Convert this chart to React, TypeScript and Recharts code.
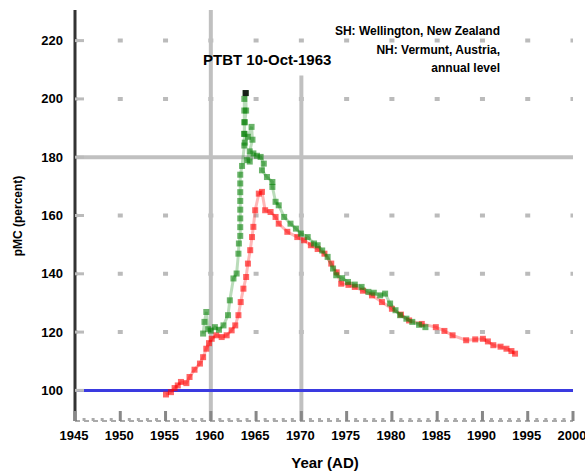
import React from 'react';
import { ComposedChart, Scatter, XAxis, YAxis, ReferenceLine } from 'recharts';

// Southern hemisphere: Wellington, New Zealand (red)
const nzYears = [
  1955.05, 1955.6, 1956.0, 1956.35, 1956.7, 1957.3, 1957.65, 1958.2, 1958.8, 1959.15,
  1959.5, 1959.8, 1960.1, 1960.6, 1961.2, 1961.75, 1962.3, 1962.7, 1963.05, 1963.3,
  1963.6, 1963.9, 1964.1, 1964.35, 1964.55, 1964.7, 1964.9, 1965.3, 1965.65, 1966.0,
  1966.6, 1967.15, 1967.5, 1968.45, 1969.55, 1970.3, 1971.05, 1971.8, 1972.55, 1973.3,
  1973.9, 1974.4, 1975.2, 1975.9, 1976.8, 1977.8, 1978.9, 1980.0, 1981.0, 1981.9,
  1983.3, 1984.85, 1985.8, 1986.7, 1988.2, 1989.2, 1990.05, 1990.6, 1991.2, 1992.0,
  1992.65, 1993.2, 1993.6,
];
const nzValues = [
  98.6, 99.4, 100.8, 101.7, 102.9, 102.5, 104.6, 107.1, 109.2, 111.4,
  114.3, 116.2, 117.7, 118.9, 118.3, 118.9, 120.6, 122.3, 125.8, 130.3,
  134.9, 138.9, 143.5, 148.1, 152.6, 156.1, 161.8, 167.5, 168.1, 161.8,
  161.2, 159.5, 157.2, 154.4, 152.6, 151.5, 149.8, 148.5, 146.9, 143.5,
  140.5, 136.6, 136.2, 135.5, 134.2, 132.6, 130.3, 128.0, 126.0, 124.0,
  122.8, 121.7, 120.4, 118.9, 117.2, 117.5, 117.7, 116.8, 115.5, 115.0,
  114.3, 113.5, 112.6,
];

// Northern hemisphere: Vermunt, Austria (green)
const atYears = [
  1959.15, 1959.3, 1959.5, 1959.7, 1960.0, 1960.45, 1960.9, 1961.4, 1961.9, 1962.1,
  1962.5, 1962.85, 1963.05, 1963.1, 1963.25, 1963.25, 1963.25, 1963.25, 1963.25, 1963.25,
  1963.25, 1963.25, 1963.45, 1963.7, 1963.7, 1963.7, 1963.7, 1963.7, 1963.85, 1963.9,
  1963.75, 1963.7, 1963.75, 1964.1, 1964.5, 1964.6, 1964.3, 1964.0, 1964.3, 1964.7,
  1965.1, 1965.5, 1965.85, 1965.65, 1966.2, 1966.8, 1966.8, 1967.15, 1967.5, 1968.1,
  1968.8, 1969.4, 1969.95, 1970.7, 1971.4, 1971.8, 1972.3, 1972.9, 1973.5, 1973.85,
  1974.5, 1975.15, 1975.9, 1976.65, 1977.4, 1978.0, 1978.7, 1979.25, 1979.8, 1980.4,
  1980.9, 1981.6, 1982.25, 1983.0, 1983.7,
];
const atValues = [
  119.5, 123.5, 126.9, 121.0, 120.5, 121.7, 120.8, 122.3, 125.8, 130.9,
  138.4, 140.1, 146.9, 150.4, 153.0, 156.0, 159.0, 162.0, 165.0, 168.0,
  171.0, 174.0, 177.0, 184.0, 188.0, 192.0, 196.0, 200.0, 202.0, 196.0,
  192.0, 188.0, 185.0, 187.0, 190.4, 186.0, 182.0, 179.0, 178.5, 181.3,
  180.5, 180.1, 177.8, 175.5, 173.2, 171.5, 169.8, 164.7, 163.5, 159.5,
  157.2, 155.5, 153.8, 152.6, 150.4, 149.8, 148.0, 145.8, 141.8, 139.5,
  138.5, 137.2, 136.3, 135.5, 133.8, 133.5, 132.6, 133.2, 129.8, 127.5,
  125.8, 124.6, 123.5, 122.5, 121.7,
];

const peakYears = [1963.85];
const peakValues = [202];

const xLabelYears = [1945, 1950, 1955, 1960, 1965, 1970, 1975, 1980, 1985, 1990, 1995, 2000];
const yTicks = [100, 120, 140, 160, 180, 200, 220];
const gridRows = [120, 140, 160, 200, 220];

const titleText = 'PTBT 10-Oct-1963';
const legendLines = ['SH: Wellington, New Zealand', 'NH: Vermunt, Austria,', 'annual level'];
const xTitle = 'Year (AD)';
const yTitle = 'pMC (percent)';

const W = 585;
const H = 472;
const MARGIN = { top: 10, right: 12, left: 0, bottom: 0 };
const Y_AXIS_W = 75;
const X_AXIS_H = 51;
const xDomain: [number, number] = [1945, 2000];
const yDomain: [number, number] = [89.5, 230.5];
const plotW = W - MARGIN.left - MARGIN.right - Y_AXIS_W;
const gridStep = (plotW * 5) / (xDomain[1] - xDomain[0]);
const allYears: number[] = [];
for (let yr = xDomain[0]; yr <= xDomain[1]; yr++) allYears.push(yr);

const FONT = '"Liberation Sans", Arial, sans-serif';

const nzData = nzYears.map((x, i) => ({ x, y: nzValues[i] }));
const atData = atYears.map((x, i) => ({ x, y: atValues[i] }));
const peakData = peakYears.map((x, i) => ({ x, y: peakValues[i] }));

const square = (color: string, size: number, opacity: number) => (props: any) => {
  const { cx, cy } = props;
  if (cx == null || cy == null) return <g />;
  return (
    <rect x={cx - size / 2} y={cy - size / 2} width={size} height={size} fill={color} fillOpacity={opacity} />
  );
};

const BottomTick = (props: any) => {
  const { x, y, payload } = props;
  const v = payload.value;
  const major = xLabelYears.includes(v);
  return (
    <g>
      <line x1={x} x2={x} y1={y} y2={y - (major ? 10 : 3)} stroke={major ? '#888' : '#aaa'} strokeWidth={3} />
      {major && (
        <text x={x - 1} y={y + 19} textAnchor="middle" fontSize={13} fontWeight="bold" fontFamily={FONT} fill="#000">
          {v}
        </text>
      )}
    </g>
  );
};

const TopTick = (props: any) => {
  const { x, y, payload } = props;
  const major = xLabelYears.includes(payload.value);
  return <line x1={x} x2={x} y1={y} y2={y + (major ? 9 : 3)} stroke={major ? '#999' : '#aaa'} strokeWidth={3} />;
};

const LeftTick = (props: any) => {
  const { x, y, payload } = props;
  return (
    <g>
      <line x1={x} x2={x + 9} y1={y} y2={y} stroke="#bbb" strokeWidth={3} />
      <text x={x - 12} y={y + 4.5} textAnchor="end" fontSize={13} fontWeight="bold" fontFamily={FONT} fill="#000">
        {payload.value}
      </text>
    </g>
  );
};

const RightTick = (props: any) => {
  const { x, y } = props;
  return <line x1={x} x2={x - 8} y1={y} y2={y} stroke="#999" strokeWidth={3} />;
};

export default function App() {
  return (
    <div style={{ position: 'absolute', left: 0, top: 0, width: W, height: H, background: '#fff' }}>
      <ComposedChart width={W} height={H} margin={MARGIN}>
        <XAxis
          type="number"
          dataKey="x"
          domain={xDomain}
          ticks={allYears}
          interval={0}
          height={X_AXIS_H}
          axisLine={{ stroke: '#aaa', strokeWidth: 2, strokeDasharray: '5 4' }}
          tickLine={false}
          tickSize={0}
          tickMargin={0}
          tick={(p: any) => <BottomTick {...p} />}
        />
        <XAxis
          xAxisId="top"
          orientation="top"
          type="number"
          dataKey="x"
          domain={xDomain}
          ticks={allYears}
          interval={0}
          height={0}
          axisLine={{ stroke: '#555', strokeWidth: 2 }}
          tickLine={false}
          tickSize={0}
          tickMargin={0}
          tick={(p: any) => <TopTick {...p} />}
        />
        <YAxis
          type="number"
          dataKey="y"
          domain={yDomain}
          ticks={yTicks}
          interval={0}
          width={Y_AXIS_W}
          axisLine={{ stroke: '#333', strokeWidth: 3 }}
          tickLine={false}
          tickSize={0}
          tickMargin={0}
          tick={(p: any) => <LeftTick {...p} />}
        />
        <YAxis
          yAxisId="right"
          orientation="right"
          type="number"
          domain={yDomain}
          ticks={yTicks}
          interval={0}
          width={0}
          axisLine={{ stroke: '#333', strokeWidth: 3 }}
          tickLine={false}
          tickSize={0}
          tickMargin={0}
          tick={(p: any) => <RightTick {...p} />}
        />

        {gridRows.map((v) => (
          <ReferenceLine
            key={v}
            y={v}
            stroke="#bbb"
            strokeWidth={4}
            strokeDasharray={`5 ${gridStep - 5}`}
            strokeDashoffset={2.5}
          />
        ))}
        <ReferenceLine x={1960} stroke="#c0c0c0" strokeWidth={4} />
        <ReferenceLine
          segment={[
            { x: 1970, y: yDomain[0] },
            { x: 1970, y: 208 },
          ]}
          stroke="#c0c0c0"
          strokeWidth={4}
        />
        <ReferenceLine y={180} stroke="#c0c0c0" strokeWidth={4} />
        <ReferenceLine y={100} stroke="#3a3ae0" strokeWidth={3} />

        <Scatter
          data={nzData}
          isAnimationActive={false}
          line={{ stroke: '#ff3030', strokeWidth: 3, strokeOpacity: 0.35 }}
          shape={square('#ff0000', 6, 0.6)}
        />
        <Scatter
          data={atData}
          isAnimationActive={false}
          line={{ stroke: '#1a8a1a', strokeWidth: 3, strokeOpacity: 0.3 }}
          shape={square('#0a820a', 6, 0.6)}
        />
        <Scatter data={peakData} isAnimationActive={false} shape={square('#111', 6, 0.9)} />
      </ComposedChart>

      <svg
        width={W}
        height={H}
        style={{ position: 'absolute', left: 0, top: 0, pointerEvents: 'none' }}
        fontFamily={FONT}
        fontWeight="bold"
      >
        <text x={203} y={65} fontSize={15} fill="#000">
          {titleText}
        </text>
        <text x={500} y={35} fontSize={12} textAnchor="end" fill="#000">
          {legendLines[0]}
        </text>
        <text x={500} y={54} fontSize={12} textAnchor="end" fill="#000">
          {legendLines[1]}
        </text>
        <text x={500} y={72} fontSize={12} textAnchor="end" fill="#000">
          {legendLines[2]}
        </text>
        <text x={325} y={468} fontSize={15} textAnchor="middle" fill="#000">
          {xTitle}
        </text>
        <text x={22} y={216} fontSize={12} textAnchor="middle" fill="#000" transform="rotate(-90 22 216)">
          {yTitle}
        </text>
      </svg>
    </div>
  );
}
